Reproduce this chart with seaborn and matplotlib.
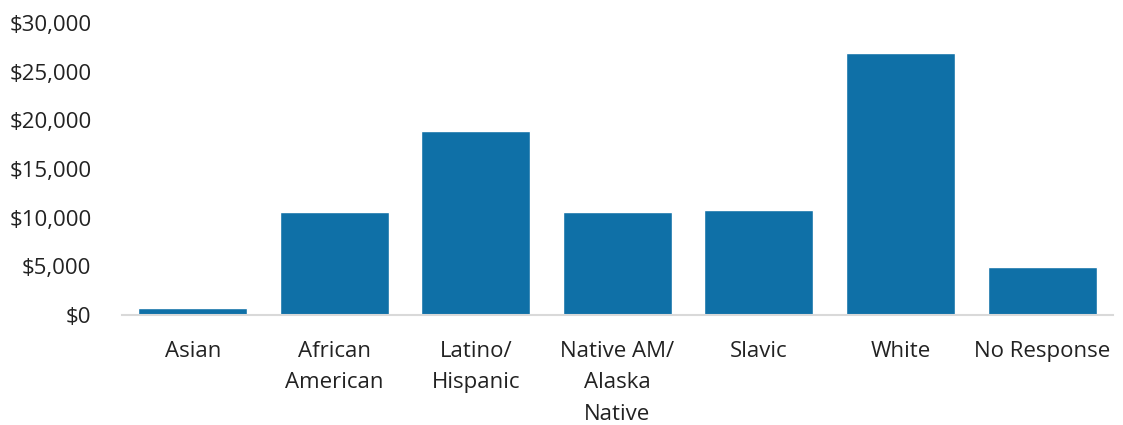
import pandas as pd
import seaborn as sns
import matplotlib.pyplot as plt
from matplotlib.ticker import FuncFormatter

groups = ['Asian', 'African\nAmerican', 'Latino/\nHispanic', 'Native AM/\nAlaska\nNative',
          'Slavic', 'White', 'No Response']
amounts = [700, 10550, 18900, 10600, 10750, 26900, 4950]

df = pd.DataFrame({'group': groups, 'amount': amounts})

sns.set_style('white')
plt.rcParams['font.family'] = ['Open Sans', 'DejaVu Sans']

fig = plt.figure(figsize=(11.23, 4.25), dpi=100)
ax = fig.add_axes([0.1086, 0.2588, 0.8824, 0.687])

sns.barplot(data=df, x='group', y='amount', color='#0F70A7', saturation=1,
            width=0.77, ax=ax)

ax.set_ylim(0, 30000)
ax.set_yticks(range(0, 30001, 5000))
ax.yaxis.set_major_formatter(FuncFormatter(lambda v, p: '${:,.0f}'.format(v)))
ax.set_xlabel('')
ax.set_ylabel('')

for s in ['top', 'right', 'left']:
    ax.spines[s].set_visible(False)
ax.spines['bottom'].set_color('#d9d9d9')
ax.spines['bottom'].set_linewidth(1.5)

ax.tick_params(axis='y', length=0, pad=22, labelsize=16, labelcolor='#222222')
ax.tick_params(axis='x', length=0, pad=19, labelsize=16, labelcolor='#222222')
for lbl in ax.get_xticklabels():
    lbl.set_linespacing(1.63)
    lbl.set_verticalalignment('top')

fig.savefig('out.png', dpi=100)
